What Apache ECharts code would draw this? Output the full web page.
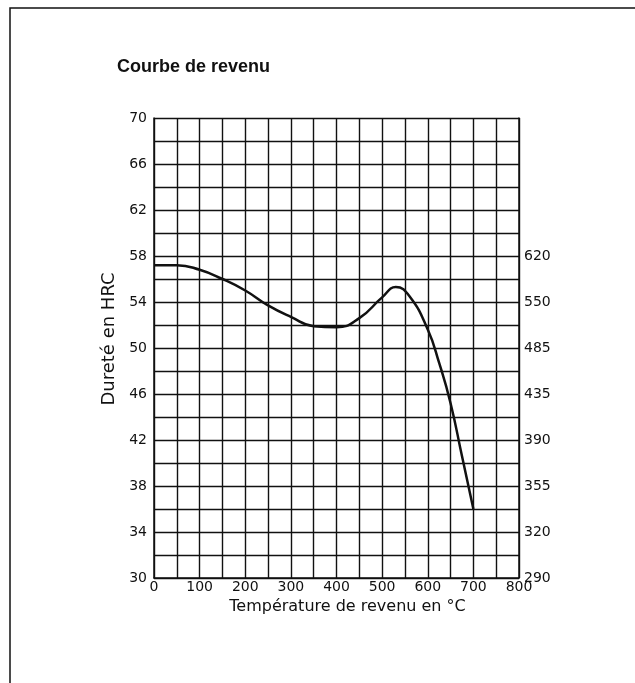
<!DOCTYPE html>
<html>
<head>
<meta charset="utf-8">
<script src="https://cdn.jsdelivr.net/npm/echarts@6/dist/echarts.min.js"></script>
<style>
  html, body { margin: 0; padding: 0; background: #fff; }
  #chart { width: 635px; height: 683px; }
</style>
</head>
<body>
<div id="chart"></div>
<script>
// température de revenu (°C) et dureté (HRC)
const temps = [0, 50, 100, 150, 200, 250, 300, 350, 400, 450, 500, 530, 560, 600, 625, 650, 675, 700];
const hrc = [57.2, 57.2, 56.8, 56.0, 55.0, 53.7, 52.7, 51.9, 51.8, 52.6, 54.4, 55.3, 54.5, 51.6, 48.7, 45.2, 40.6, 36.0];

// graduations
const hrcLabels = [30, 34, 38, 42, 46, 50, 54, 58, 62, 66, 70];
const hvLabels = { 30: '290', 34: '320', 38: '355', 42: '390', 46: '435', 50: '485', 54: '550', 58: '620' };
const tempLabels = [0, 100, 200, 300, 400, 500, 600, 700, 800];

const ink = '#111';
const font = 'DejaVu Sans';

const chart = echarts.init(document.getElementById('chart'));

chart.setOption({
  animation: false,
  backgroundColor: '#fff',
  title: {
    text: 'Courbe de revenu',
    left: 112,
    top: 53,
    textStyle: { fontFamily: 'Liberation Sans', fontWeight: 'bold', fontSize: 18, color: ink }
  },
  graphic: [{
    type: 'rect',
    shape: { x: 10, y: 8, width: 700, height: 700 },
    style: { fill: 'none', stroke: ink, lineWidth: 1.5 }
  }],
  grid: { left: 154, right: 116, top: 118, bottom: 105 },
  xAxis: {
    type: 'value',
    min: 0,
    max: 800,
    interval: 50,
    name: 'Température de revenu en °C',
    nameLocation: 'middle',
    nameGap: 15,
    nameTextStyle: { fontFamily: font, fontSize: 16, color: ink, padding: [0, 0, 0, 22] },
    axisLine: { show: true, lineStyle: { color: ink, width: 1.5 } },
    axisTick: { show: false },
    axisLabel: {
      margin: 2,
      fontFamily: font,
      fontSize: 14,
      color: ink,
      formatter: v => tempLabels.includes(v) ? String(v) : ''
    },
    splitLine: { show: true, lineStyle: { color: ink, width: 1.4 } }
  },
  yAxis: [{
    type: 'value',
    min: 30,
    max: 70,
    interval: 2,
    name: 'Dureté en HRC',
    nameLocation: 'middle',
    nameGap: 22,
    nameTextStyle: { fontFamily: font, fontSize: 18, color: ink, padding: [0, 0, 0, 18] },
    axisLine: { show: true, lineStyle: { color: ink, width: 1.5 } },
    axisTick: { show: false },
    axisLabel: {
      margin: 7,
      fontFamily: font,
      fontSize: 14,
      color: ink,
      formatter: v => hrcLabels.includes(v) ? String(v) : ''
    },
    splitLine: { show: true, lineStyle: { color: ink, width: 1.4 } }
  }, {
    type: 'value',
    position: 'right',
    min: 30,
    max: 70,
    interval: 2,
    axisLine: { show: true, lineStyle: { color: ink, width: 1.5 } },
    axisTick: { show: false },
    axisLabel: {
      margin: 5,
      fontFamily: font,
      fontSize: 14,
      color: ink,
      formatter: v => hvLabels[v] || ''
    },
    splitLine: { show: false }
  }],
  series: [{
    type: 'line',
    data: temps.map((t, i) => [t, hrc[i]]),
    smooth: 0.5,
    showSymbol: false,
    lineStyle: { color: ink, width: 2.5 }
  }]
});
</script>
</body>
</html>
